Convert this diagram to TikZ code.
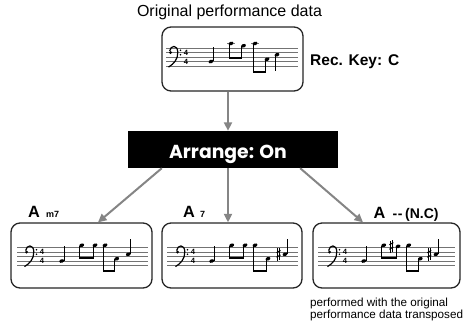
\documentclass[tikz,border=0pt]{standalone}
\usepackage{fontspec}
\setmainfont{Liberation Sans}
\newfontfamily\popfont{Poppins}
\usetikzlibrary{arrows.meta}
\tikzset{
  staffln/.style={line width=0.5pt, draw=black!55},
  stemln/.style={line width=0.6pt},
  beamln/.style={line width=2.2pt, line cap=butt},
  tsig/.style={font=\fontsize{7.6}{7.6}\selectfont\bfseries, inner sep=0pt},
  card/.style={draw=black!85, line width=1.3pt, rounded corners=9pt, fill=white},
  conn/.style={draw=black!48, line width=2pt, -{Triangle[length=8.5pt,width=8pt]}},
  lbl/.style={font=\fontsize{16.3}{18}\selectfont\bfseries, inner sep=0pt, anchor=base west},
  sublbl/.style={font=\fontsize{9}{10}\selectfont\bfseries, inner sep=0pt, anchor=base west},
}
\newcommand\stafflines[2]{\foreach \k in {0,2,4,6,8} \draw[staffln] (#1,\k) -- (#2,\k);}
\newcommand\bclef[1]{%
  \fill (#1+1.6,6) circle (1.6pt);
  \draw[line width=1.2pt] (#1+0.6,6.6) .. controls (#1+1.5,9.3) and (#1+8.5,9.6) .. (#1+8.8,6.2) .. controls (#1+9,3) and (#1+5,1) .. (#1-0.5,-0.5);
  \fill (#1+11.5,7) circle (0.8pt) (#1+11.5,5) circle (0.8pt);}
\newcommand\tsigs[1]{\node[tsig] at (#1,6) {4}; \node[tsig] at (#1,2) {4};}
\newcommand\hd[2]{\fill[rotate around={20:(#1,#2)}] (#1,#2) ellipse [x radius=2.5pt, y radius=1.75pt];}
\newcommand\nup[3]{\hd{#1}{#2}\draw[stemln] (#1+2.2,#2+0.2) -- (#1+2.2,#3);}
\newcommand\ndn[3]{\hd{#1}{#2}\draw[stemln] (#1-2.2,#2-0.2) -- (#1-2.2,#3);}
\newcommand\nbeam[3]{\draw[beamln] (#1-2.2,#3+0.45) -- (#2-2.2,#3+0.45);}
\newcommand\ledg[2]{\draw[staffln] (#1-4,#2) -- (#1+4,#2);}
\newcommand\shrp[2]{%
  \draw[line width=0.45pt] (#1-0.9,#2-3) -- (#1-0.9,#2+2.6) (#1+0.9,#2-2.6) -- (#1+0.9,#2+3);
  \draw[line width=1pt] (#1-2,#2-1.3) -- (#1+2,#2-0.3) (#1-2,#2+0.7) -- (#1+2,#2+1.7);}
\begin{document}
\begin{tikzpicture}[x=1pt, y=-1pt]
\useasboundingbox (0,0) rectangle (465,325);
% boxes
\node[card, minimum width=141pt, minimum height=64pt] (top) at (232.5,59) {};
\node[fill=black, minimum width=210pt, minimum height=37pt, inner sep=0pt] (arr) at (233,149.5) {};
\node[card, minimum width=141pt, minimum height=65pt] (b1) at (81.5,255.5) {};
\node[card, minimum width=140pt, minimum height=65pt] (b2) at (232,255.5) {};
\node[card, minimum width=147pt, minimum height=65pt] (b3) at (386.5,255.5) {};
% texts
\node[font=\fontsize{16}{18}\selectfont, inner sep=0pt, anchor=base] (orig) at (229.5,16.7) {Original performance data};
\node[font=\fontsize{15.5}{18}\selectfont\bfseries, inner sep=0pt, anchor=base west] (reckey) at (310,65.7) {Rec. Key: C};
\node[font=\fontsize{18.8}{22}\selectfont\popfont\bfseries, text=white, inner sep=0pt, anchor=base] (arrtxt) at (228,158.3) {Arrange: On};
\node[lbl] (la) at (28,217) {A};
\node[sublbl] (lm) at (46,217) {m7};
\node[lbl] (lb) at (183,217) {A};
\node[sublbl] (l7) at (200,217) {7};
\node[lbl] (lc) at (373.3,218) {A};
\node[font=\fontsize{14}{15}\selectfont\bfseries, inner sep=0pt, anchor=base west] (lnc) at (392.5,218) {-\kern0.6pt-\kern2.5pt(N.C)};
\node[font=\fontsize{11.7}{12}\selectfont, inner sep=0pt, anchor=north west, align=left] (cap) at (310,297.5) {performed with the original\\performance data transposed};
% connectors
\draw[conn] ([xshift=-4.5pt]top.south) -- ([xshift=-5pt]arr.north);
\draw[conn] ([xshift=34pt]arr.south west) -- ([xshift=16.5pt]b1.north);
\draw[conn] ([xshift=-5pt]arr.south) -- ([xshift=-4pt]b2.north);
\draw[conn] ([xshift=-38pt]arr.south east) -- ([xshift=-23.5pt]b3.north);
% top staff
\begin{scope}[yshift=-66pt, y=2.25pt]
  \stafflines{166}{298}
  \bclef{169}\tsigs{186}
  \nup{211}{2}{8.5}
  \ledg{231}{10}\ndn{231}{10}{3}\ndn{243.5}{9}{3}\nbeam{231}{243.5}{3}
  \ledg{255}{10}\ndn{255}{10}{-3}\ndn{267}{3}{-3}\nbeam{255}{267}{-3}
  \ndn{277}{5}{-2}
\end{scope}
% staff 1
\begin{scope}[yshift=-265.5pt, y=2.25pt]
  \stafflines{17}{148}
  \bclef{25}\tsigs{42}
  \nup{61.7}{2}{8.5}
  \ndn{81.7}{9}{3}\ndn{95}{9}{3}\nbeam{81.7}{95}{3}
  \ndn{105}{9}{-3}\ndn{116.7}{3}{-3}\nbeam{105}{116.7}{-3}
  \nup{128.3}{5}{12}
\end{scope}
% staff 2
\begin{scope}[yshift=-265.5pt, y=2.25pt]
  \stafflines{167}{298}
  \bclef{176}\tsigs{193}
  \nup{211.7}{2}{8.5}
  \ndn{231.7}{9}{3}\ndn{245}{9}{3}\nbeam{231.7}{245}{3}
  \ndn{255}{9}{-3}\ndn{268}{3}{-3}\nbeam{255}{268}{-3}
  \shrp{278.5}{5}\nup{285}{5}{12}
\end{scope}
% staff 3
\begin{scope}[yshift=-265.5pt, y=2.25pt]
  \stafflines{318}{455}
  \bclef{328}\tsigs{345}
  \nup{363.7}{2}{8.5}
  \ndn{383.7}{9}{3}\shrp{391.3}{8.5}\ndn{398}{8.5}{3}\nbeam{383.7}{398}{3}
  \ndn{408.7}{9}{-3}\ndn{420.3}{3}{-3}\nbeam{408.7}{420.3}{-3}
  \shrp{429.3}{5}\nup{436}{5}{12}
\end{scope}
\end{tikzpicture}
\end{document}
